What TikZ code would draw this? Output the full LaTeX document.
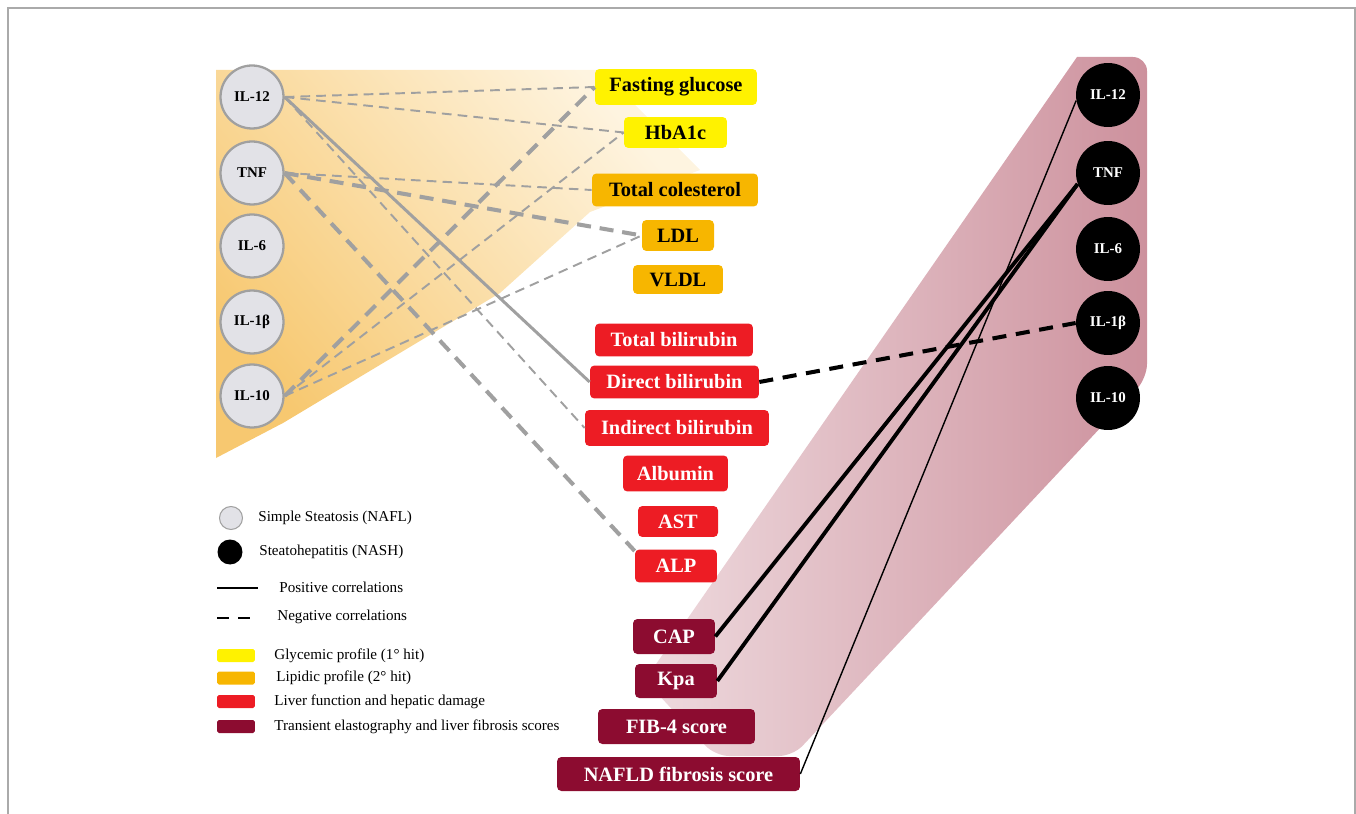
\documentclass[tikz,border=0pt]{standalone}
\usepackage{fontspec}
\setmainfont{Liberation Serif}

\definecolor{glyc}{RGB}{255,242,0}
\definecolor{lipid}{RGB}{247,182,0}
\definecolor{liver}{RGB}{237,28,36}
\definecolor{elast}{RGB}{140,12,48}
\definecolor{naflgray}{RGB}{226,226,231}
\definecolor{linegray}{RGB}{160,160,160}
\definecolor{framegray}{RGB}{170,170,170}
\definecolor{wedgedark}{RGB}{247,200,112}
\definecolor{wedgelight}{RGB}{254,244,224}
\definecolor{bandlight}{RGB}{238,218,222}
\definecolor{banddark}{RGB}{205,145,157}

\begin{document}
\begin{tikzpicture}[x=0.02cm, y=-0.02cm,
  nafl/.style={circle, draw=linegray, line width=1.3pt, fill=naflgray, minimum size=1.26cm, inner sep=0pt, font=\fontsize{8.5}{10}\selectfont\bfseries},
  nash/.style={circle, fill=black, text=white, minimum size=1.28cm, inner sep=0pt, font=\fontsize{8.5}{10}\selectfont\bfseries},
  lab/.style={rounded corners=2.5pt, minimum height=0.66cm, inner sep=2pt, font=\fontsize{11.6}{13}\selectfont\bfseries},
  glycbox/.style={lab, fill=glyc},
  lipbox/.style={lab, fill=lipid},
  livbox/.style={lab, fill=liver, text=white},
  elbox/.style={lab, fill=elast, text=white},
  legtext/.style={anchor=west, inner sep=0pt, font=\fontsize{8.6}{10}\selectfont},
  swatch/.style={rounded corners=1pt, minimum width=0.76cm, minimum height=0.26cm, inner sep=0pt},
  gthin/.style={linegray, line width=1.1pt, dash pattern=on 5.5pt off 3.5pt},
  gthick/.style={linegray, line width=2.3pt, dash pattern=on 8pt off 5pt},
  gsolid/.style={linegray, line width=1.7pt},
  bthick/.style={line width=2.2pt},
  bthin/.style={line width=0.8pt},
  bdash/.style={line width=2.3pt, dash pattern=on 8pt off 5.5pt}]

  \useasboundingbox (0,0) rectangle (1356,814);
  \draw [framegray, line width=0.8pt] (8,814) -- (8,8) -- (1355,8) -- (1355,814);

  \shade [bottom color=wedgedark, top color=wedgelight, shading angle=-50]
    (216,70) -- (600,70) -- (700,170) -- (590,212) -- (500,293) -- (283,423) -- (216,458) -- cycle;
  \shade [left color=bandlight, right color=banddark, rounded corners=8pt]
    (1077,57) -- (1147,57) -- (1147,378) -- (793,756) -- (715,756) -- (645,680) [sharp corners] -- cycle;

  \node [nafl] (l12) at (252,97) {IL-12};
  \node [nafl] (ltnf) at (252,173) {TNF};
  \node [nafl] (l6) at (252,246) {IL-6};
  \node [nafl] (l1b) at (252,322) {IL-1β};
  \node [nafl] (l10) at (252,396) {IL-10};

  \node [nash] (r12) at (1108,95) {IL-12};
  \node [nash] (rtnf) at (1108,173) {TNF};
  \node [nash] (r6) at (1108,249) {IL-6};
  \node [nash] (r1b) at (1108,323) {IL-1β};
  \node [nash] (r10) at (1108,398) {IL-10};

  \node [glycbox, minimum width=3.24cm, minimum height=0.72cm] (fg) at (676,87) {Fasting glucose};
  \node [glycbox, minimum width=2.06cm, minimum height=0.62cm] (hb) at (675.5,132.5) {HbA1c};
  \node [lipbox, minimum width=3.32cm] (tc) at (675,190) {Total colesterol};
  \node [lipbox, minimum width=1.44cm, minimum height=0.62cm] (ldl) at (678,235.5) {LDL};
  \node [lipbox, minimum width=1.8cm, minimum height=0.58cm] (vldl) at (678,279.5) {VLDL};
  \node [livbox, minimum width=3.16cm] (tb) at (674,340) {Total bilirubin};
  \node [livbox, minimum width=3.38cm] (db) at (674.5,382) {Direct bilirubin};
  \node [livbox, minimum width=3.68cm, minimum height=0.72cm] (ib) at (677,428) {Indirect bilirubin};
  \node [livbox, minimum width=2.1cm, minimum height=0.72cm] (alb) at (675.5,473.5) {Albumin};
  \node [livbox, minimum width=1.6cm, minimum height=0.62cm] (ast) at (678,521.5) {AST};
  \node [livbox, minimum width=1.64cm] (alp) at (676,566) {ALP};
  \node [elbox, minimum width=1.64cm, minimum height=0.7cm] (cap) at (674,636.5) {CAP};
  \node [elbox, minimum width=1.64cm, minimum height=0.68cm] (kpa) at (676,681) {Kpa};
  \node [elbox, minimum width=3.14cm, minimum height=0.7cm] (fib) at (676.5,726.5) {FIB-4 score};
  \node [elbox, minimum width=4.86cm, minimum height=0.68cm] (nfs) at (678.5,774) {NAFLD fibrosis score};

  \draw [gthin] (l12.east) -- (fg.west);
  \draw [gthin] (l12.east) -- (hb.west);
  \draw [gsolid] (l12.east) -- (db.west);
  \draw [gthin] (l12.east) -- (ib.west);
  \draw [gthin] (ltnf.east) -- (tc.west);
  \draw [gthick] (ltnf.east) -- (ldl.west);
  \draw [gthick] (ltnf.east) -- (alp.160);
  \draw [gthick] (l10.east) -- (fg.west);
  \draw [gthin] (l10.east) -- (hb.west);
  \draw [gthin] (l10.east) -- (ldl.west);

  \draw [bdash] (db.east) -- (r1b.west);
  \draw [bthick] (cap.east) -- (rtnf.200);
  \draw [bthick] (kpa.east) -- (rtnf.200);
  \draw [bthin] (nfs.east) -- (r12.190);

  \node [circle, draw=linegray, line width=0.6pt, fill=naflgray, minimum size=0.46cm, inner sep=0pt] (knafl) at (231,518) {};
  \node [legtext] (tnafl) at (258,518) {Simple Steatosis (NAFL)};
  \node [circle, fill=black, minimum size=0.5cm, inner sep=0pt] (knash) at (230,552) {};
  \node [legtext] (tnash) at (259,552) {Steatohepatitis (NASH)};
  \coordinate (pa) at (217,588);
  \coordinate (pb) at (258,588);
  \draw [line width=1.5pt] (pa) -- (pb);
  \node [legtext] (tpos) at (279,587) {Positive correlations};
  \coordinate (na) at (217,618);
  \coordinate (nb) at (258,618);
  \draw [line width=1.7pt, dash pattern=on 7pt off 5pt] (na) -- (nb);
  \node [legtext] (tneg) at (277,617) {Negative correlations};
  \node [swatch, fill=glyc] (sglyc) at (236,655.5) {};
  \node [legtext] (tglyc) at (274,656) {Glycemic profile (1° hit)};
  \node [swatch, fill=lipid] (slip) at (236,678) {};
  \node [legtext] (tlip) at (276,678) {Lipidic profile (2° hit)};
  \node [swatch, fill=liver] (sliv) at (236,701.5) {};
  \node [legtext] (tliv) at (274,702) {Liver function and hepatic damage};
  \node [swatch, fill=elast] (sel) at (236,726.5) {};
  \node [legtext] (tel) at (274,727) {Transient elastography and liver fibrosis scores};
\end{tikzpicture}
\end{document}
